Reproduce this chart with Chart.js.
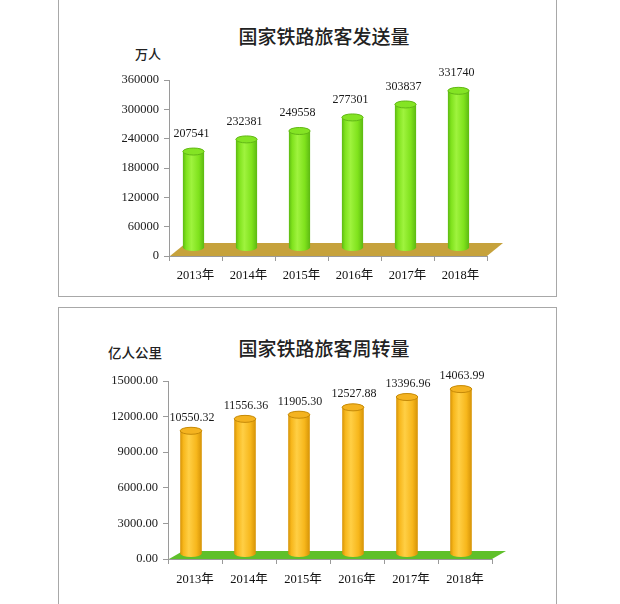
<!DOCTYPE html>
<html>
<head>
<meta charset="utf-8">
<script src="https://cdn.jsdelivr.net/npm/chart.js@4/dist/chart.umd.min.js"></script>
<style>
    html, body { margin: 0; padding: 0; background: #fff; }
    body { position: relative; width: 620px; height: 604px; overflow: hidden; }
    .box { position: absolute; left: 58px; width: 497px; border: 1px solid #a8a8a8; }
    .title { position: absolute; font-family: "Noto Sans CJK SC", sans-serif; font-weight: 500; color: #222; white-space: nowrap; transform: translate(-50%, -50%); }
    .unit { position: absolute; font-family: "Noto Sans CJK SC", sans-serif; font-weight: 500; color: #222; white-space: nowrap; transform: translateY(-50%); }
    canvas { position: absolute; left: 0; }
</style>
</head>
<body>
<div class="box" style="top:-6px;height:301px"></div>
<div class="box" style="top:307px;height:310px"></div>

<div class="title" style="left:324px;top:35px;font-size:19px">国家铁路旅客发送量</div>
<div class="unit" style="left:135px;top:53px;font-size:13px">万人</div>
<div class="title" style="left:324px;top:347px;font-size:19px">国家铁路旅客周转量</div>
<div class="unit" style="left:108px;top:352px;font-size:13.5px">亿人公里</div>

<canvas id="sentChart" width="620" height="300" style="top:0"></canvas>
<canvas id="turnoverChart" width="620" height="304" style="top:300px"></canvas>

<script>
// categories and values
const years = ['2013年', '2014年', '2015年', '2016年', '2017年', '2018年'];
const passengersSent = [207541, 232381, 249558, 277301, 303837, 331740];      // 万人
const passengerKm = [10550.32, 11556.36, 11905.30, 12527.88, 13396.96, 14063.99]; // 亿人公里
const sentTicks = [0, 60000, 120000, 180000, 240000, 300000, 360000];
const kmTicks = [0, 3000, 6000, 9000, 12000, 15000];

const serif = '"Liberation Serif", "Noto Sans CJK SC", serif';
const axisGray = '#9a9a9a';

// 3D floor + cylinder bars + value labels, all placed from the bar elements
const cylinderPlugin = {
    id: 'cylinders',
    beforeDatasetsDraw(chart, args, o) {
        const { ctx, chartArea } = chart;
        const y0 = chart.scales.y.getPixelForValue(0);
        ctx.save();
        ctx.fillStyle = o.floor;
        ctx.beginPath();
        ctx.moveTo(chartArea.left + 1, y0);
        ctx.lineTo(chartArea.right, y0);
        ctx.lineTo(chartArea.right + o.depthX, y0 - o.depthY);
        ctx.lineTo(chartArea.left + 1 + o.depthX, y0 - o.depthY);
        ctx.closePath();
        ctx.fill();
        ctx.restore();
    },
    afterDatasetsDraw(chart, args, o) {
        const ctx = chart.ctx;
        const meta = chart.getDatasetMeta(0);
        const data = chart.data.datasets[0].data;
        ctx.save();
        meta.data.forEach((bar, i) => {
            const cx = bar.x + o.shift;
            const rx = bar.width / 2;
            const ry = 3.5;
            const top = bar.y - 3;
            const bottom = bar.base - o.sink;

            const g = ctx.createLinearGradient(cx - rx, 0, cx + rx, 0);
            g.addColorStop(0, o.dark);
            g.addColorStop(0.15, o.main);
            g.addColorStop(0.4, o.light);
            g.addColorStop(0.75, o.main);
            g.addColorStop(1, o.dark);

            ctx.fillStyle = g;
            ctx.beginPath();
            ctx.moveTo(cx - rx, top);
            ctx.lineTo(cx - rx, bottom);
            ctx.ellipse(cx, bottom, rx, ry, 0, Math.PI, 0, true);
            ctx.lineTo(cx + rx, top);
            ctx.ellipse(cx, top, rx, ry, 0, 0, Math.PI, true);
            ctx.closePath();
            ctx.fill();

            // top cap
            ctx.beginPath();
            ctx.ellipse(cx, top, rx, ry, 0, 0, Math.PI * 2);
            ctx.fillStyle = o.cap;
            ctx.fill();
            ctx.lineWidth = 1;
            ctx.strokeStyle = o.edge;
            ctx.stroke();

            // value label
            ctx.fillStyle = '#1a1a1a';
            ctx.font = '12px ' + serif;
            ctx.textAlign = 'center';
            ctx.textBaseline = 'middle';
            ctx.fillText(o.format(data[i]), bar.x + o.labelDx, bar.y - o.labelDy);
        });
        ctx.restore();
    }
};

function makeChart(id, values, ticks, fmt, pad, style) {
    new Chart(document.getElementById(id), {
        type: 'bar',
        data: {
            labels: years,
            datasets: [{
                data: values,
                backgroundColor: 'rgba(0,0,0,0)',
                borderWidth: 0,
                categoryPercentage: 0.8,
                barPercentage: 0.5
            }]
        },
        options: {
            responsive: false,
            animation: false,
            events: [],
            layout: { padding: pad },
            plugins: {
                legend: { display: false },
                tooltip: { enabled: false },
                cylinders: Object.assign({ format: fmt }, style)
            },
            scales: {
                x: {
                    afterFit: s => { s.height = 30; },
                    grid: { display: true, drawOnChartArea: false, tickLength: 5, color: axisGray, offset: true },
                    border: { display: true, color: axisGray },
                    ticks: { padding: style.xPad, color: '#111', font: { family: serif, size: 12.5 } }
                },
                y: {
                    min: ticks[0],
                    max: ticks[ticks.length - 1],
                    afterBuildTicks: s => { s.ticks = ticks.map(v => ({ value: v })); },
                    afterFit: s => { s.width = 100; },
                    grid: { display: true, drawOnChartArea: false, tickLength: 5, color: axisGray },
                    border: { display: true, color: axisGray },
                    ticks: { padding: 5, color: '#1a1a1a', font: { family: serif, size: 12.5 }, callback: v => fmt(v) }
                }
            }
        },
        plugins: [cylinderPlugin]
    });
}

makeChart('sentChart', passengersSent, sentTicks, v => String(v),
    { left: 69, right: 133, top: 80, bottom: 14 },
    { floor: '#c6a23c', depthX: 16, depthY: 13, sink: 8, shift: -2,
      dark: '#5cb912', light: '#9ff33e', main: '#7fe21c', cap: '#84e424', edge: '#62b816',
      labelDx: -4, labelDy: 21, xPad: 7 });

makeChart('turnoverChart', passengerKm, kmTicks, v => Number(v).toFixed(2),
    { left: 68, right: 128, top: 81, bottom: 15 },
    { floor: '#5fc02a', depthX: 14, depthY: 8, sink: 5, shift: -4,
      dark: '#d69306', light: '#ffcf45', main: '#f7b71c', cap: '#f4b320', edge: '#c68a08',
      labelDx: -3, labelDy: 16, xPad: 8 });
</script>
</body>
</html>
